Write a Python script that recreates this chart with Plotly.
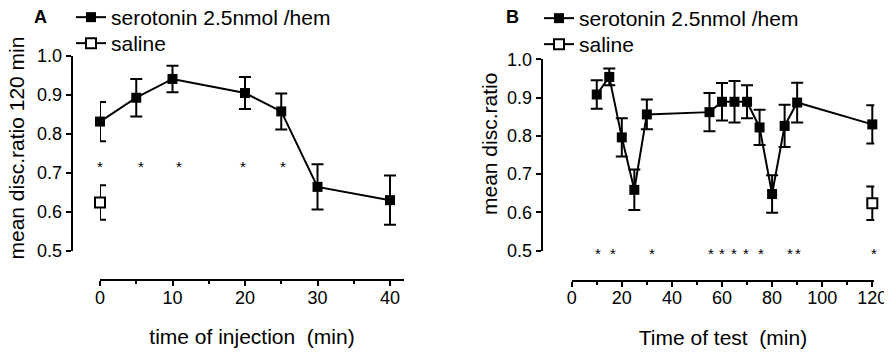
import plotly.graph_objects as go

# ---------------- data ----------------
inj_time = [0, 5, 10, 20, 25, 30, 40]
inj_mean = [0.831, 0.892, 0.940, 0.904, 0.857, 0.664, 0.630]
inj_sem = [0.050, 0.048, 0.034, 0.041, 0.046, 0.058, 0.063]
inj_sal_time = [0]
inj_sal_mean = [0.624]
inj_sal_sem = [0.044]
inj_sig_x = [0, 5.7, 10.9, 19.7, 25.3]
inj_sig_y = [0.725] * 5

test_time = [10, 15, 20, 25, 30, 55, 60, 65, 70, 75, 80, 85, 90, 120]
test_mean = [0.908, 0.954, 0.796, 0.659, 0.856, 0.862, 0.889, 0.889, 0.889,
             0.822, 0.648, 0.826, 0.887, 0.830]
test_sem = [0.037, 0.022, 0.050, 0.053, 0.039, 0.050, 0.049, 0.054, 0.043,
            0.046, 0.049, 0.055, 0.052, 0.050]
test_sal_time = [120]
test_sal_mean = [0.624]
test_sal_sem = [0.044]
test_sig_x = [10.4, 16.6, 31.9, 55.5, 60.1, 64.8, 69.5, 75.7, 87.1, 90.2, 120.8]
test_sig_y = [0.5] * 11

y_ticks = [0.5, 0.6, 0.7, 0.8, 0.9, 1.0]
y_ticktext = ["0.5", "0.6", "0.7", "0.8", "0.9", "1.0"]

# ---------------- layout helpers ----------------
PAGE_W, PAGE_H = 892, 355
BODY = 8  # default page margin around the plot div
W, H = PAGE_W - BODY, PAGE_H - BODY
FONT = "Arial, Liberation Sans, sans-serif"


def fx(px):
    """page pixel x -> paper fraction"""
    return (px - BODY) / W


def fy(py):
    """page pixel y -> paper fraction"""
    return 1 - (py - BODY) / H


err_style = dict(type="data", visible=True, thickness=2, width=6, color="black")

fig = go.Figure()

# Panel A
fig.add_trace(go.Scatter(
    x=inj_time, y=inj_mean, mode="lines+markers", name="serotonin 2.5nmol /hem",
    line=dict(color="black", width=2),
    marker=dict(symbol="square", size=10, color="black"),
    error_y=dict(array=inj_sem, **err_style), showlegend=True,
    xaxis="x", yaxis="y", legend="legend", cliponaxis=False))
fig.add_trace(go.Scatter(
    x=inj_sal_time, y=inj_sal_mean, mode="lines+markers", name="saline",
    line=dict(color="black", width=2),
    marker=dict(symbol="square", size=10, color="white", line=dict(color="black", width=2)),
    error_y=dict(array=inj_sal_sem, **err_style), showlegend=True,
    xaxis="x", yaxis="y", legend="legend2", cliponaxis=False))

# Panel B
fig.add_trace(go.Scatter(
    x=test_time, y=test_mean, mode="lines+markers", name="serotonin 2.5nmol /hem",
    line=dict(color="black", width=2),
    marker=dict(symbol="square", size=10, color="black"),
    error_y=dict(array=test_sem, **err_style), showlegend=True,
    xaxis="x2", yaxis="y2", legend="legend3", cliponaxis=False))
fig.add_trace(go.Scatter(
    x=test_sal_time, y=test_sal_mean, mode="lines+markers", name="saline",
    line=dict(color="black", width=2),
    marker=dict(symbol="square", size=10, color="white", line=dict(color="black", width=2)),
    error_y=dict(array=test_sal_sem, **err_style), showlegend=True,
    xaxis="x2", yaxis="y2", legend="legend4", cliponaxis=False))

# significance asterisks
annotations = []
for xs, ys, xr, yr in [(inj_sig_x, inj_sig_y, "x", "y"), (test_sig_x, test_sig_y, "x2", "y2")]:
    for xv, yv in zip(xs, ys):
        annotations.append(dict(x=xv, y=yv, xref=xr, yref=yr, text="*", showarrow=False,
                                xanchor="center", yanchor="middle", yshift=-3,
                                font=dict(family=FONT, size=15, color="black")))

titlefont = dict(family=FONT, size=21, color="black")
annotations += [
    dict(text="<b>A</b>", x=fx(40), y=fy(17), xref="paper", yref="paper",
         xanchor="center", yanchor="middle", showarrow=False,
         font=dict(family=FONT, size=18, color="black")),
    dict(text="<b>B</b>", x=fx(512), y=fy(17), xref="paper", yref="paper",
         xanchor="center", yanchor="middle", showarrow=False,
         font=dict(family=FONT, size=18, color="black")),
    # y-axis titles
    dict(text="mean disc.ratio 120 min", x=fx(16), y=fy(148.5), xref="paper", yref="paper",
         xanchor="center", yanchor="middle", textangle=-90, showarrow=False, font=titlefont),
    dict(text="mean disc.ratio", x=fx(489), y=fy(144), xref="paper", yref="paper",
         xanchor="center", yanchor="middle", textangle=-90, showarrow=False, font=titlefont),
]

tickfont = dict(family=FONT, size=18, color="black")

xcommon = dict(showgrid=False, zeroline=False, showline=True, linecolor="black",
               linewidth=2, ticks="outside", ticklen=5, tickwidth=2, tickcolor="black",
               tickfont=tickfont, anchor="free", fixedrange=True, automargin=False,
               ticklabelstandoff=-4, ticklabeloverflow="allow")
ycommon = dict(showgrid=False, zeroline=False, showline=True, linecolor="black",
               linewidth=2, ticks="outside", ticklen=5, tickwidth=2, tickcolor="black",
               tickfont=tickfont, anchor="free", range=[0.5, 1.0],
               tickvals=y_ticks, ticktext=y_ticktext, fixedrange=True, automargin=False,
               ticklabeloverflow="allow")

legcommon = dict(font=dict(family=FONT, size=21, color="black"), bgcolor="rgba(0,0,0,0)",
                 borderwidth=0, xanchor="left", yanchor="top", visible=True,
                 itemclick=False, itemdoubleclick=False)
LEG_HALF = 19  # distance from legend top to the centre of its row

fig.update_layout(
    width=W, height=H, autosize=False, showlegend=True,
    margin=dict(l=0, r=0, t=0, b=0, autoexpand=False),
    paper_bgcolor="white", plot_bgcolor="white",
    font=dict(family=FONT, color="black"),
    xaxis=dict(domain=[fx(100), fx(404)], range=[0, 41.93], position=fy(280),
               tickvals=[0, 10, 20, 30, 40],
               minor=dict(tickvals=[5, 15, 25, 35], ticks="outside", ticklen=3,
                          tickwidth=2, tickcolor="black"),
               title=dict(text="time of injection\u00a0 (min)", font=titlefont, standoff=22),
               **xcommon),
    yaxis=dict(domain=[fy(251), fy(55.5)], position=fx(71.7), **ycommon),
    xaxis2=dict(domain=[fx(571.7), fx(874.3)], range=[0, 120.8], position=fy(280.5),
                tickvals=[0, 20, 40, 60, 80, 100, 120],
                minor=dict(tickvals=[10, 30, 50, 70, 90, 110], ticks="outside", ticklen=3,
                           tickwidth=2, tickcolor="black"),
                title=dict(text="Time of test\u00a0 (min)", font=titlefont, standoff=22),
                **xcommon),
    yaxis2=dict(domain=[fy(250.7), fy(59.3)], position=fx(541.7), **ycommon),
    legend=dict(x=fx(71), y=fy(16 - LEG_HALF), **legcommon),
    legend2=dict(x=fx(71), y=fy(42 - LEG_HALF), **legcommon),
    legend3=dict(x=fx(539), y=fy(17 - LEG_HALF), **legcommon),
    legend4=dict(x=fx(539), y=fy(43 - LEG_HALF), **legcommon),
    annotations=annotations,
)

fig.write_html("out.html")
